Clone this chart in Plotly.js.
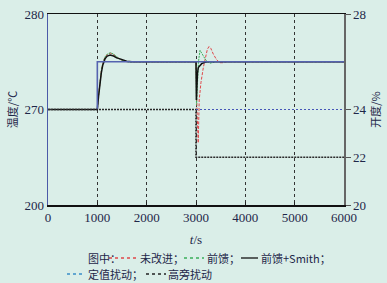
<!DOCTYPE html>
<html>
<head>
<meta charset="utf-8">
<script src="https://cdn.plot.ly/plotly-3.0.1.min.js"></script>
<style>html,body{margin:0;padding:0;background:#daeee8;}#chart{width:387px;height:283px;}</style>
</head>
<body>
<div id="chart"></div>
<script>
// ---- data ----
var tRed   = [0, 1000, 1025, 1054, 1080, 1108, 1155, 1210, 1270, 1330, 1392, 1460, 1527, 1595, 1700, 3000, 3020, 3045, 3065, 3100, 3149, 3196, 3230, 3264, 3300, 3351, 3419, 3486, 3550, 3620, 3700, 6000];
var tempRed = [270, 270, 271.5, 273.0, 274.0, 274.8, 275.5, 275.8, 275.9, 275.75, 275.5, 275.25, 275.1, 275.0, 275, 275, 270.0, 266.5, 271.0, 272.8, 274.4, 275.4, 276.3, 276.6, 276.4, 275.8, 275.2, 274.9, 274.9, 275.0, 275.0, 275];

var tGreen = [0, 1000, 1025, 1054, 1080, 1108, 1155, 1210, 1270, 1330, 1392, 1460, 1527, 1595, 1650, 1700, 3000, 3010, 3030, 3050, 3081, 3110, 3150, 3183, 3230, 3284, 3340, 3420, 6000];
var tempGreen = [270, 270, 271.5, 273.0, 274.0, 274.8, 275.5, 275.85, 275.95, 275.8, 275.5, 275.25, 275.1, 275.0, 274.95, 275, 275, 270.5, 272.8, 275.0, 276.2, 276.0, 275.6, 275.3, 275.0, 274.85, 274.9, 275.0, 275];

var tBlack = [0, 1000, 1025, 1054, 1080, 1108, 1155, 1200, 1260, 1330, 1392, 1460, 1527, 1595, 1700, 3000, 3008, 3015, 3030, 3047, 3080, 3115, 3183, 3250, 6000];
var tempBlack = [270, 270, 271.4, 272.8, 273.8, 274.6, 275.3, 275.6, 275.7, 275.6, 275.4, 275.3, 275.2, 275.05, 275, 275, 271.0, 272.6, 273.8, 274.4, 274.65, 274.8, 274.95, 275, 275];

var tSet = [1000, 1000, 6000];
var setpoint = [270, 275, 275];

var tDist = [0, 3000, 3000, 6000];
var distOpen = [24, 24, 22, 22];

var tRef = [3000, 6000];
var refOpen = [24, 24];

var xTicks = [0, 1000, 2000, 3000, 4000, 5000, 6000];
var yTickVals = [260, 270, 280];
var yTickText = ["200", "270", "280"];
var y2Ticks = [20, 22, 24, 28];

var legendLabels = ["图中：", "未改进；", "前馈；", "前馈+Smith；", "定值扰动；", "高旁扰动"];

// ---- drawing ----
var serif = "Liberation Serif";
var cjk = "Noto Sans CJK SC";
var ink = "#1e2748";

var traces = [
  {x: tRed, y: tempRed, mode: "lines", line: {color: "#e0484a", width: 1, dash: "3px,1.5px"}, hoverinfo: "skip"},
  {x: tGreen, y: tempGreen, mode: "lines", line: {color: "#3aae5a", width: 1, dash: "2px,1px"}, hoverinfo: "skip"},
  {x: tBlack, y: tempBlack, mode: "lines", line: {color: "#111111", width: 1.5}, hoverinfo: "skip"},
  {x: tSet, y: setpoint, mode: "lines", line: {color: "#5563b0", width: 1.6}, hoverinfo: "skip"},
  {x: tDist, y: distOpen, yaxis: "y2", mode: "lines", line: {color: "#2a2a2a", width: 1.6, dash: "2px,1px"}, hoverinfo: "skip"},
  {x: tRef, y: refOpen, yaxis: "y2", mode: "lines", line: {color: "#4656b8", width: 1, dash: "2px,2px"}, hoverinfo: "skip"}
];

function px(x){ return (x - 48) / 296; }
function py(y){ return (205 - y) / 191; }

function label(txt, x, y){
  return {xref: "paper", yref: "paper", x: px(x), y: py(y), xanchor: "left", yanchor: "middle",
          showarrow: false, borderpad: 0, font: {family: cjk, size: 11, color: ink}, text: txt};
}
function sample(x0, x1, y, color, dash, w){
  return {type: "line", xref: "paper", yref: "paper", x0: px(x0), x1: px(x1), y0: py(y), y1: py(y),
          line: {color: color, width: w, dash: dash}};
}

var layout = {
  width: 387, height: 283,
  margin: {l: 48, r: 43, t: 14, b: 78},
  paper_bgcolor: "#daeee8",
  plot_bgcolor: "#daeee8",
  showlegend: false,
  font: {family: serif, color: ink, size: 13},
  xaxis: {
    range: [0, 6000], tickvals: xTicks, ticks: "inside", ticklen: 3, tickcolor: "#222",
    showline: true, linecolor: "#111", linewidth: 1.5, mirror: true,
    showgrid: true, gridcolor: "#333", griddash: "dot", gridwidth: 1,
    zeroline: false, tickfont: {family: serif, size: 13, color: ink},
    title: {text: "<i>t</i>/s", font: {family: serif, size: 13, color: ink}, standoff: 11}
  },
  yaxis: {
    range: [260, 280], tickvals: yTickVals, ticktext: yTickText, ticks: "inside", ticklen: 4, tickcolor: "#333",
    showline: true, linecolor: "#4b5aa8", linewidth: 1.5, mirror: false,
    showgrid: false, zeroline: false, tickfont: {family: serif, size: 13, color: ink},
    title: {text: "温度/℃", font: {family: cjk, size: 11, color: ink}, standoff: 4}
  },
  yaxis2: {
    range: [20, 28], tickvals: y2Ticks, overlaying: "y", side: "right", ticks: "outside", ticklen: 5, tickcolor: "#555",
    showline: true, linecolor: "#666", linewidth: 1.5,
    showgrid: false, zeroline: false, tickfont: {family: serif, size: 13, color: ink},
    title: {text: "开度/%", font: {family: cjk, size: 11, color: ink}, standoff: 6}
  },
  shapes: [
    sample(109, 137, 258, "#e0484a", "dot", 1.5),
    sample(184, 204, 258, "#3aae5a", "dot", 1.5),
    sample(241, 258, 258, "#111111", "solid", 1.3),
    sample(67, 85, 274, "#3a8ec8", "dot", 1.5),
    sample(146, 166, 274, "#222222", "dot", 1.5)
  ],
  annotations: [
    label(legendLabels[0], 87, 258),
    label(legendLabels[1], 139, 258),
    label(legendLabels[2], 206, 258),
    label(legendLabels[3], 260, 258),
    label(legendLabels[4], 87, 274),
    label(legendLabels[5], 167, 274)
  ]
};

Plotly.newPlot("chart", traces, layout, {staticPlot: true, displayModeBar: false});
</script>
</body>
</html>
